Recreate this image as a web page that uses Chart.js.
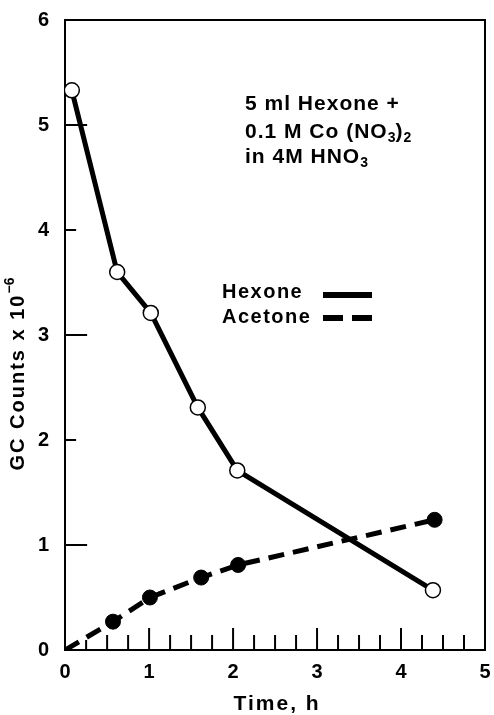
<!DOCTYPE html>
<html>
<head>
<meta charset="utf-8">
<script src="https://cdn.jsdelivr.net/npm/chart.js@4.4.1/dist/chart.umd.min.js"></script>
<style>
    html, body { margin: 0; padding: 0; background: #fff; }
    #wrap { width: 494px; height: 715px; }
</style>
</head>
<body>
<div id="wrap"><canvas id="gcChart"></canvas></div>
<script>
// Данные
const hexoneTime = [0.08, 0.62, 1.02, 1.58, 2.05, 4.38];
const hexoneCounts = [5.33, 3.6, 3.21, 2.31, 1.71, 0.57];
const acetoneTime = [0, 0.57, 1.01, 1.62, 2.06, 4.4];
const acetoneCounts = [0, 0.27, 0.5, 0.69, 0.81, 1.24];
const xTicks = [0, 1, 2, 3, 4, 5];
const yTicks = [0, 1, 2, 3, 4, 5, 6];

const FONT = "'Liberation Sans', Arial, sans-serif";

function toPoints(xs, ys) {
    return xs.map((x, i) => ({ x: x, y: ys[i] }));
}

// Рамка, внутренние засечки, подписи и легенда
const decorPlugin = {
    id: 'decor',
    afterDraw(chart) {
        const ctx = chart.ctx;
        const { left, right, top, bottom } = chart.chartArea;
        const xs = chart.scales.x;
        const ys = chart.scales.y;
        ctx.save();
        ctx.strokeStyle = '#000';
        ctx.lineWidth = 2;

        // верх и правая сторона рамки
        ctx.beginPath();
        ctx.moveTo(left, top);
        ctx.lineTo(right, top);
        ctx.lineTo(right, bottom);
        ctx.stroke();

        // засечки по оси X (каждые 0.25)
        for (let i = 1; i < 20; i++) {
            const px = xs.getPixelForValue(i * 0.25);
            let len = (i % 4 === 0) ? 22 : 15;
            if (i === 1) len = 10;
            ctx.beginPath();
            ctx.moveTo(px, bottom);
            ctx.lineTo(px, bottom - len);
            ctx.stroke();
        }
        // засечки по оси Y
        yTicks.slice(1, -1).forEach(v => {
            const py = ys.getPixelForValue(v);
            const len = (v % 2 === 1) ? 22 : 11;
            ctx.beginPath();
            ctx.moveTo(left, py);
            ctx.lineTo(left + len, py);
            ctx.stroke();
        });

        ctx.fillStyle = '#000';
        ctx.textBaseline = 'alphabetic';

        // подпись оси X
        ctx.textAlign = 'center';
        ctx.font = 'bold 21px ' + FONT;
        ctx.letterSpacing = '2px';
        ctx.fillText('Time, h', (left + right) / 2 + 2, 710);

        // подпись оси Y
        ctx.save();
        ctx.translate(24, 370);
        ctx.rotate(-Math.PI / 2);
        ctx.textAlign = 'center';
        ctx.font = 'bold 20px ' + FONT;
        ctx.letterSpacing = '2px';
        ctx.fillText('GC Counts x 10', -12, 0);
        const w = ctx.measureText('GC Counts x 10').width;
        ctx.font = 'bold 14px ' + FONT;
        ctx.letterSpacing = '0px';
        ctx.textAlign = 'left';
        ctx.fillText('\u22126', -12 + w / 2, -10);
        ctx.restore();

        // текст условий опыта
        const drawRuns = (x, y, runs) => {
            let cx = x;
            runs.forEach(([t, sub]) => {
                ctx.font = (sub ? 'bold 14px ' : 'bold 21px ') + FONT;
                ctx.letterSpacing = sub ? '0px' : '1px';
                ctx.fillText(t, cx, sub ? y + 4 : y);
                cx += ctx.measureText(t).width;
            });
        };
        ctx.textAlign = 'left';
        drawRuns(245, 110, [['5 ml Hexone +', false]]);
        drawRuns(245, 138, [['0.1 M Co (NO', false], ['3', true], [')', false], ['2', true]]);
        drawRuns(245, 163, [['in 4M HNO', false], ['3', true]]);

        // легенда
        ctx.font = 'bold 20px ' + FONT;
        ctx.letterSpacing = '1.5px';
        ctx.fillText('Hexone', 222, 298);
        ctx.fillText('Acetone', 222, 323);
        ctx.letterSpacing = '0px';
        ctx.lineWidth = 6;
        ctx.beginPath();
        ctx.moveTo(323, 295);
        ctx.lineTo(372, 295);
        ctx.stroke();
        ctx.setLineDash([20, 9]);
        ctx.beginPath();
        ctx.moveTo(323, 318);
        ctx.lineTo(372, 318);
        ctx.stroke();
        ctx.restore();
    }
};

const ctx = document.getElementById('gcChart').getContext('2d');
new Chart(ctx, {
    type: 'scatter',
    data: {
        datasets: [
            {
                label: 'Hexone',
                data: toPoints(hexoneTime, hexoneCounts),
                showLine: true,
                borderColor: '#000',
                borderWidth: 5,
                pointBackgroundColor: '#fff',
                pointBorderColor: '#000',
                pointBorderWidth: 1.5,
                pointRadius: 7.5,
                order: 1
            },
            {
                label: 'Acetone',
                data: toPoints(acetoneTime, acetoneCounts),
                showLine: true,
                borderColor: '#000',
                borderWidth: 5,
                borderDash: [16, 9],
                pointBackgroundColor: '#000',
                pointBorderColor: '#000',
                pointBorderWidth: 1,
                pointRadius: acetoneTime.map(t => t === 0 ? 0 : 7.5),
                order: 2
            }
        ]
    },
    options: {
        responsive: true,
        maintainAspectRatio: false,
        animation: false,
        layout: {
            padding: { left: 30, top: 10, right: 0, bottom: 29 }
        },
        scales: {
            x: {
                type: 'linear',
                min: 0,
                max: 5,
                afterBuildTicks: axis => { axis.ticks = xTicks.map(v => ({ value: v })); },
                ticks: {
                    color: '#000',
                    font: { family: FONT, size: 20, weight: 'bold' },
                    padding: 2
                },
                grid: { display: false },
                border: { display: true, color: '#000', width: 2 }
            },
            y: {
                min: 0,
                max: 6,
                afterBuildTicks: axis => { axis.ticks = yTicks.map(v => ({ value: v })); },
                ticks: {
                    color: '#000',
                    font: { family: FONT, size: 20, weight: 'bold' },
                    padding: 8
                },
                grid: { display: false },
                border: { display: true, color: '#000', width: 2 }
            }
        },
        plugins: {
            legend: { display: false },
            tooltip: { enabled: false }
        }
    },
    plugins: [decorPlugin]
});
</script>
</body>
</html>
